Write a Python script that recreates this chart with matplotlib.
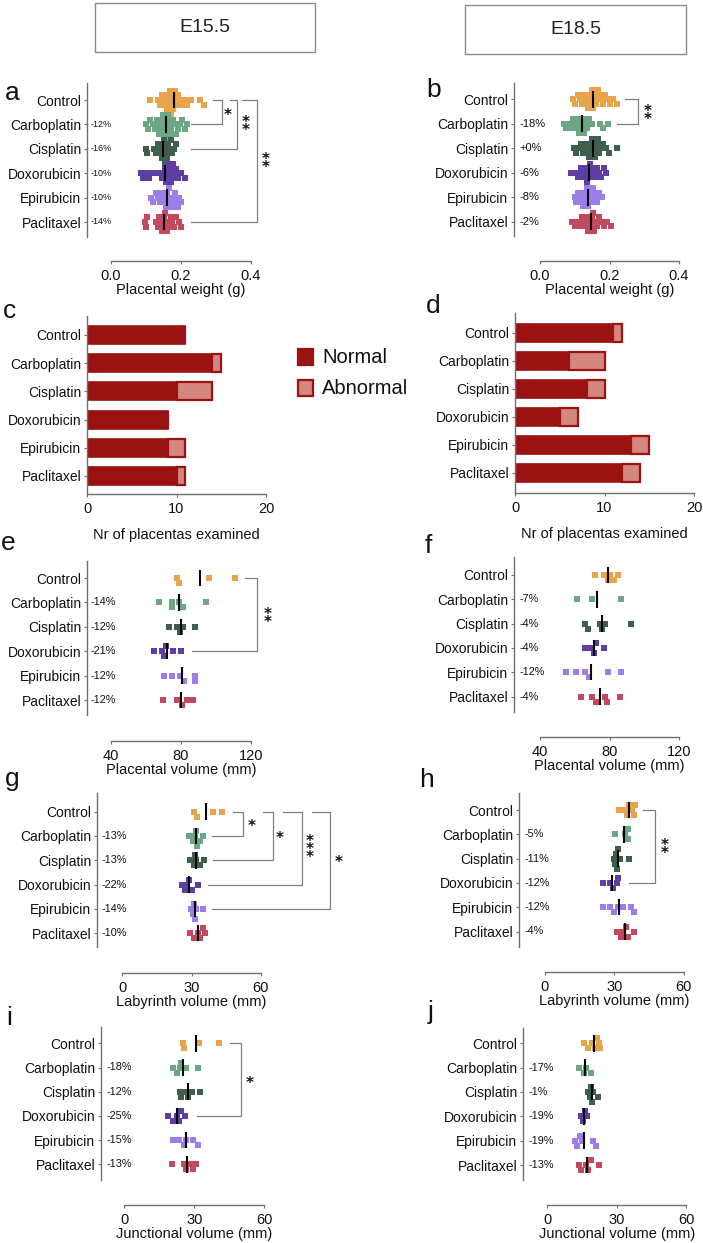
import numpy as np
import matplotlib
matplotlib.use('Agg')
import matplotlib.pyplot as plt
from matplotlib.patches import Rectangle

W, H = 703, 1243
plt.rcParams['font.family'] = ['Liberation Sans', 'DejaVu Sans']

groups = ['Control', 'Carboplatin', 'Cisplatin', 'Doxorubicin', 'Epirubicin', 'Paclitaxel']
colors = ['#E8A34B', '#6DA685', '#3E5F4B', '#5F3EA3', '#9C7EEA', '#C3495F']

# ---- a: placental weight E15.5 (g)
a_ctrl = [0.110, 0.135, 0.140, 0.145, 0.150, 0.155, 0.160, 0.160, 0.165, 0.168, 0.170, 0.172, 0.175,
          0.178, 0.180, 0.183, 0.186, 0.190, 0.195, 0.200, 0.210, 0.218, 0.228, 0.255, 0.265]
a_carbo = [0.100, 0.105, 0.112, 0.120, 0.125, 0.130, 0.135, 0.138, 0.142, 0.145, 0.148, 0.150, 0.152, 0.155,
           0.158, 0.160, 0.162, 0.165, 0.168, 0.172, 0.176, 0.180, 0.185, 0.190, 0.197, 0.203, 0.210, 0.216]
a_cis = [0.100, 0.104, 0.122, 0.128, 0.133, 0.138, 0.142, 0.145, 0.148, 0.150, 0.152, 0.155, 0.157, 0.160,
         0.163, 0.166, 0.170, 0.175, 0.180, 0.186]
a_doxo = [0.085, 0.092, 0.100, 0.108, 0.118, 0.135, 0.145, 0.150, 0.154, 0.157, 0.160, 0.162, 0.165, 0.168,
          0.171, 0.175, 0.178, 0.182, 0.186, 0.192, 0.200, 0.210]
a_epi = [0.115, 0.120, 0.128, 0.135, 0.140, 0.145, 0.150, 0.154, 0.158, 0.161, 0.164, 0.167, 0.170, 0.174,
         0.178, 0.182, 0.186, 0.190, 0.195, 0.200]
a_pacli = [0.097, 0.100, 0.104, 0.128, 0.133, 0.138, 0.142, 0.146, 0.149, 0.152, 0.155, 0.158, 0.161, 0.165,
           0.170, 0.175, 0.180, 0.186, 0.193, 0.200]
pct_a = ['', '-12%', '-16%', '-10%', '-10%', '-14%']

# ---- b: placental weight E18.5 (g)
b_ctrl = [0.095, 0.100, 0.108, 0.114, 0.120, 0.125, 0.130, 0.134, 0.138, 0.142, 0.145, 0.148, 0.150, 0.153,
          0.156, 0.159, 0.162, 0.166, 0.170, 0.175, 0.180, 0.186, 0.192, 0.200, 0.210, 0.222]
b_carbo = [0.068, 0.074, 0.082, 0.088, 0.094, 0.099, 0.104, 0.108, 0.112, 0.116, 0.120, 0.123, 0.127, 0.131,
           0.136, 0.142, 0.150, 0.172, 0.180, 0.196]
b_cis = [0.098, 0.105, 0.112, 0.118, 0.124, 0.129, 0.134, 0.138, 0.142, 0.145, 0.148, 0.151, 0.154, 0.157,
         0.160, 0.163, 0.167, 0.171, 0.176, 0.182, 0.190, 0.198, 0.222]
b_doxo = [0.088, 0.104, 0.110, 0.117, 0.122, 0.127, 0.131, 0.135, 0.138, 0.141, 0.144, 0.148, 0.152, 0.157,
          0.163, 0.170, 0.176, 0.183, 0.190]
b_epi = [0.100, 0.105, 0.110, 0.115, 0.119, 0.123, 0.127, 0.130, 0.133, 0.136, 0.139, 0.142, 0.145, 0.148,
         0.152, 0.156, 0.160, 0.165, 0.171, 0.178]
b_pacli = [0.093, 0.100, 0.108, 0.115, 0.121, 0.126, 0.131, 0.135, 0.139, 0.143, 0.146, 0.149, 0.152, 0.156,
           0.160, 0.165, 0.170, 0.176, 0.183, 0.192, 0.205]
pct_b = ['', '-18%', '+0%', '-6%', '-8%', '-2%']

# ---- c / d: number of placentas examined
c_normal = [11, 14, 10, 9, 9, 10]
c_abnormal = [0, 1, 4, 0, 2, 1]
d_normal = [11, 6, 8, 5, 13, 12]
d_abnormal = [1, 4, 2, 2, 2, 2]

# ---- e / f: placental volume (mm)
e_ctrl = [77.5, 79, 96, 111]
e_carbo = [67.6, 74.7, 74.7, 78.9, 81.3, 94.3]
e_cis = [73, 78, 79.5, 81, 88]
e_doxo = [64.6, 69.3, 70, 71.5, 75.6, 80]
e_epi = [70.3, 74.7, 79.4, 81.9, 88, 88]
e_pacli = [69.9, 78, 80.4, 83.3, 87]
pct_e = ['', '-14%', '-12%', '-21%', '-12%', '-12%']

f_ctrl = [71.5, 77, 79, 80.5, 82.5, 85]
f_carbo = [61.4, 69.9, 86.8]
f_cis = [66, 67.5, 74.5, 75.7, 77.6, 92.4]
f_doxo = [66, 69.5, 71, 72, 76.6]
f_epi = [55, 60.6, 66, 68, 79, 86.8]
f_pacli = [63.3, 69.9, 72.4, 77.2, 78.5, 85.9]
pct_f = ['', '-7%', '-4%', '-4%', '-12%', '-4%']

# ---- g / h: labyrinth volume (mm)
g_ctrl = [31.2, 32.2, 39.5, 43.1]
g_carbo = [28.8, 30.5, 31.5, 32, 32.5, 33.5, 35]
g_cis = [29.5, 31, 31.5, 32, 33.5, 35.5]
g_doxo = [25.8, 27, 28, 29, 30, 33]
g_epi = [29.8, 30.5, 31, 31.5, 32, 35.2]
g_pacli = [29.5, 31, 33, 33.5, 35, 36]
pct_g = ['', '-13%', '-13%', '-22%', '-14%', '-10%']

h_ctrl = [32, 34.5, 35.5, 36.5, 37.5, 38.5, 38.8]
h_carbo = [30.5, 34.5, 36, 36]
h_cis = [29.8, 30.3, 30.8, 31.2, 31.8, 32.3, 36.4]
h_doxo = [25, 28, 29.5, 31, 31.5]
h_epi = [25, 28.3, 29.8, 31.5, 34, 37.4, 38.4]
h_pacli = [31.3, 33, 34, 35, 36, 38.5]
pct_h = ['', '-5%', '-11%', '-12%', '-12%', '-4%']

# ---- i / j: junctional volume (mm)
i_ctrl = [25.3, 25.7, 32, 40.7]
i_carbo = [21, 22.5, 24, 24.5, 26.5, 31.7]
i_cis = [23.7, 24.5, 26, 27.5, 29.2, 32.6]
i_doxo = [18.9, 21, 22.5, 23.5, 24.5, 26]
i_epi = [20.7, 23.4, 25.5, 26.5, 29.6, 31.7]
i_pacli = [20.3, 25.5, 26.5, 28, 29.5, 30.7]
pct_i = ['', '-18%', '-12%', '-25%', '-15%', '-13%']

j_ctrl = [16, 17.5, 19.5, 20.5, 21.5, 22.5, 23]
j_carbo = [13.9, 16, 17, 19.1]
j_cis = [17.8, 18.5, 19, 19.5, 20, 21.8]
j_doxo = [14.8, 15.5, 16.2, 17.4]
j_epi = [11.9, 12.8, 14, 15, 20, 21]
j_pacli = [13.6, 14.5, 17, 17.5, 19, 22.5]
pct_j = ['', '-17%', '-1%', '-19%', '-19%', '-13%']

weight_ticks = ['0.0', '0.2', '0.4']
volume_ticks = ['40', '80', '120']
lab_ticks = ['0', '30', '60']
bar_ticks = ['0', '10', '20']

# ------------------------------------------------------------------
fig = plt.figure(figsize=(W / 100, H / 100), dpi=100)
GRAY = '#707070'
DARKRED = '#9A1212'
LIGHTRED = '#D4877F'


def fx(x):
    return x / W


def fy(y):
    return 1 - y / H


def ftext(x, y, s, **kw):
    fig.text(fx(x), fy(y), s, **kw)


def px_axes(left, top, right, bottom):
    return fig.add_axes([fx(left), fy(bottom), (right - left) / W, (bottom - top) / H])


def swarm(xpx, size, step):
    order = np.argsort(xpx, kind='stable')
    placed = []
    offs = np.zeros(len(xpx))
    cands = [0.0]
    for n in range(1, 30):
        cands += [n * step, -n * step]
    for idx in order:
        x = xpx[idx]
        for c in cands:
            if all(not (abs(x - px) < size and abs(c - py) < step * 0.5) for px, py in placed):
                break
        placed.append((x, c))
        offs[idx] = c
    return offs


def style_axes(ax):
    for s in ['top', 'right']:
        ax.spines[s].set_visible(False)
    for s in ['left', 'bottom']:
        ax.spines[s].set_color(GRAY)
        ax.spines[s].set_linewidth(1.0)
    ax.tick_params(axis='y', length=2.5, width=0.8, pad=1.5, color=GRAY, labelsize=10, labelcolor='#111111')
    ax.tick_params(axis='x', length=2.5, width=0.8, pad=3.5, color=GRAY, labelsize=10.5, labelcolor='#111111')
    ax.patch.set_alpha(0)


def stars(ax, x, y, n, dy):
    # one text object; glyphs sit high in the line, so shift the block down a little
    ax.text(x, y + 3.0 / dy, '\n'.join(['*'] * n), fontsize=11, fontweight='bold',
            family='DejaVu Sans', linespacing=0.42, ha='center', va='center', color='#111111')


def dot_panel(g, values, pct, pct_fs, pct_off, ticklabels, xlabel, brackets, ms, coll):
    ax = px_axes(g['sx'], g['top'], g['right'], g['xax'])
    upp = (g['t1'] - g['t0']) / (g['x1'] - g['x0'])
    xmin = g['t0'] - (g['x0'] - g['sx']) * upp
    ax.set_xlim(xmin, g['t0'] + (g['right'] - g['x0']) * upp)
    ytop = (g['top'] - g['yc']) / g['dy']
    ybot = (g['xax'] - g['yc']) / g['dy']
    ax.set_ylim(ybot, ytop)
    for i, (vals, col) in enumerate(zip(values, colors)):
        v = np.asarray(vals, dtype=float)
        offs = swarm(v / upp, coll, coll)
        ax.scatter(v, i + offs / g['dy'], s=(ms * 0.72) ** 2, marker='s', color=col,
                   linewidths=0, zorder=2)
        m = np.mean(v)
        ax.plot([m, m], [i - 0.34, i + 0.34], color='black', lw=1.5, zorder=3, solid_capstyle='butt')
        if pct[i]:
            ax.text(xmin + pct_off * upp, i, pct[i], fontsize=pct_fs, ha='left', va='center', color='#111111')
    ax.set_yticks(range(len(groups)))
    ax.set_yticklabels(groups)
    ticks = [float(t) for t in ticklabels]
    ax.set_xticks(ticks)
    ax.set_xticklabels(ticklabels)
    style_axes(ax)
    ax.spines['left'].set_bounds(ytop, (g['spb'] - g['yc']) / g['dy'])
    ax.spines['bottom'].set_bounds(ticks[0], ticks[-1])
    for (i0, i1, xa, xv, xb, nstar, sxp, syp) in brackets:
        ax.plot([xa, xv, xv, xb], [i0, i0, i1, i1], color='#808080', lw=0.9, zorder=1)
        stars(ax, sxp, syp, nstar, g['dy'])
    ftext((g['x0'] + g['x1']) / 2, g['xax'] + 29, xlabel, fontsize=10.5, ha='center', va='center', color='#111111')
    return ax


def bar_panel(g, normal, abnormal, xlabel):
    ax = px_axes(g['sx'], g['top'], g['right'], g['xax'])
    ax.set_xlim(0, 20)
    ax.set_ylim((g['xax'] - g['yc']) / g['dy'], (g['top'] - g['yc']) / g['dy'])
    y = np.arange(len(groups))
    hgt = 18 / g['dy']
    ax.barh(y, normal, height=hgt, color=DARKRED, edgecolor=DARKRED, linewidth=1.2, zorder=2)
    ax.barh(y, abnormal, left=normal, height=hgt, color=LIGHTRED, edgecolor=DARKRED, linewidth=1.6, zorder=2)
    ax.set_yticks(y)
    ax.set_yticklabels(groups)
    ax.set_xticks([float(t) for t in bar_ticks])
    ax.set_xticklabels(bar_ticks)
    style_axes(ax)
    ftext(g['sx'] + 89.5, g['xax'] + 41, xlabel, fontsize=10.5, ha='center', va='center', color='#111111')
    return ax


# ---- header boxes
for (x0, y0, x1, y1, s) in [(95, 3, 315, 52, 'E15.5'), (465, 5, 686, 54, 'E18.5')]:
    fig.add_artist(Rectangle((fx(x0), fy(y1)), (x1 - x0) / W, (y1 - y0) / H, transform=fig.transFigure,
                             facecolor='white', edgecolor='#8a8a8a', lw=1.0))
    ftext((x0 + x1) / 2, (y0 + y1) / 2, s, fontsize=14, ha='center', va='center', color='#222222')

# ---- panel letters
for (x, y, s) in [(5, 100, 'a'), (426, 97, 'b'), (3, 318, 'c'), (426, 313, 'd'), (1, 550, 'e'),
                  (425, 553, 'f'), (5, 786, 'g'), (419, 787, 'h'), (6, 1025, 'i'), (428, 1019, 'j')]:
    ftext(x, y, s, fontsize=19, ha='left', va='baseline', color='#111111')

# ---- a
ga = dict(sx=87, top=83, spb=237, xax=261, t0=0, x0=111, t1=0.4, x1=251, yc=100, dy=24.4, right=300)
dot_panel(ga, [a_ctrl, a_carbo, a_cis, a_doxo, a_epi, a_pacli], pct_a, 6.5, 3.5, weight_ticks,
          'Placental weight (g)',
          [(0, 1, 0.291, 0.316, 0.228, 1, 0.334, 0.52),
           (0, 2, 0.340, 0.361, 0.228, 2, 0.384, 0.95),
           (0, 5, 0.374, 0.418, 0.228, 2, 0.441, 2.46)], 6.0, 4.6)

# ---- b
gb = dict(sx=514, top=83, spb=236, xax=261, t0=0, x0=540, t1=0.4, x1=679, yc=99.3, dy=24.5, right=700)
dot_panel(gb, [b_ctrl, b_carbo, b_cis, b_doxo, b_epi, b_pacli], pct_b, 8, 5, weight_ticks,
          'Placental weight (g)',
          [(0, 1, 0.245, 0.282, 0.222, 2, 0.309, 0.52)], 6.0, 4.6)

# ---- c, d
gc = dict(sx=87, top=316, xax=494, right=266, yc=335, dy=28.2)
bar_panel(gc, np.array(c_normal), np.array(c_abnormal), 'Nr of placentas examined')
gd = dict(sx=515, top=313, xax=493, right=694, yc=333, dy=28.0)
bar_panel(gd, np.array(d_normal), np.array(d_abnormal), 'Nr of placentas examined')

# legend
for (yy, fc, lab) in [(349, DARKRED, 'Normal'), (380, LIGHTRED, 'Abnormal')]:
    fig.add_artist(Rectangle((fx(298), fy(yy + 16)), 15 / W, 16 / H, transform=fig.transFigure,
                             facecolor=fc, edgecolor=DARKRED, lw=1.6))
    ftext(322, yy + 8.5, lab, fontsize=14.5, ha='left', va='center', color='#111111')

# ---- e
ge = dict(sx=87, top=561, spb=715, xax=741, t0=40, x0=111, t1=120, x1=251, yc=578, dy=24.4, right=300)
dot_panel(ge, [e_ctrl, e_carbo, e_cis, e_doxo, e_epi, e_pacli], pct_e, 7.8, 3.5, volume_ticks,
          'Placental volume (mm)',
          [(0, 3, 116.6, 123.4, 86.3, 2, 129.3, 1.52)], 5.2, 5.0)

# ---- f
gf = dict(sx=514, top=557, spb=712, xax=737, t0=40, x0=540.3, t1=120, x1=678.7, yc=575, dy=24.3, right=700)
dot_panel(gf, [f_ctrl, f_carbo, f_cis, f_doxo, f_epi, f_pacli], pct_f, 7.8, 5.5, volume_ticks,
          'Placental volume (mm)', [], 5.2, 5.0)

# ---- g
gg = dict(sx=97, top=793, spb=947, xax=972.7, t0=0, x0=122.3, t1=60, x1=260.7, yc=811.7, dy=24.3, right=360)
dot_panel(gg, [g_ctrl, g_carbo, g_cis, g_doxo, g_epi, g_pacli], pct_g, 7.8, 5, lab_ticks,
          'Labyrinth volume (mm)',
          [(0, 1, 48.1, 52.2, 39.0, 1, 56.1, 0.48),
           (0, 2, 61.1, 65.2, 39.4, 1, 68.4, 1.0),
           (0, 3, 69.8, 77.8, 37.3, 3, 81.3, 1.44),
           (0, 4, 82.1, 90.0, 39.0, 1, 93.6, 1.98)], 5.2, 5.0)

# ---- h
gh = dict(sx=518.7, top=793, spb=946.7, xax=971.7, t0=0, x0=544.7, t1=60, x1=683.7, yc=810, dy=24.3, right=700)
dot_panel(gh, [h_ctrl, h_carbo, h_cis, h_doxo, h_epi, h_pacli], pct_h, 7.8, 6, lab_ticks,
          'Labyrinth volume (mm)',
          [(0, 3, 42.4, 47.5, 36.3, 2, 52.0, 1.51)], 5.2, 5.0)

# ---- i
gi = dict(sx=100.7, top=1026.7, spb=1180, xax=1205, t0=0, x0=124.3, t1=60, x1=264.3, yc=1043.3, dy=24.2, right=300)
dot_panel(gi, [i_ctrl, i_carbo, i_cis, i_doxo, i_epi, i_pacli], pct_i, 7.8, 6, lab_ticks,
          'Junctional volume (mm)',
          [(0, 3, 45.3, 49.9, 31.0, 1, 53.9, 1.52)], 5.2, 5.0)

# ---- j
gj = dict(sx=522.7, top=1028, spb=1180, xax=1205, t0=0, x0=547, t1=60, x1=686.3, yc=1043.3, dy=24.35, right=700)
dot_panel(gj, [j_ctrl, j_carbo, j_cis, j_doxo, j_epi, j_pacli], pct_j, 7.8, 6, lab_ticks,
          'Junctional volume (mm)', [], 5.2, 5.0)

fig.savefig('out.png', dpi=100, facecolor='white')
